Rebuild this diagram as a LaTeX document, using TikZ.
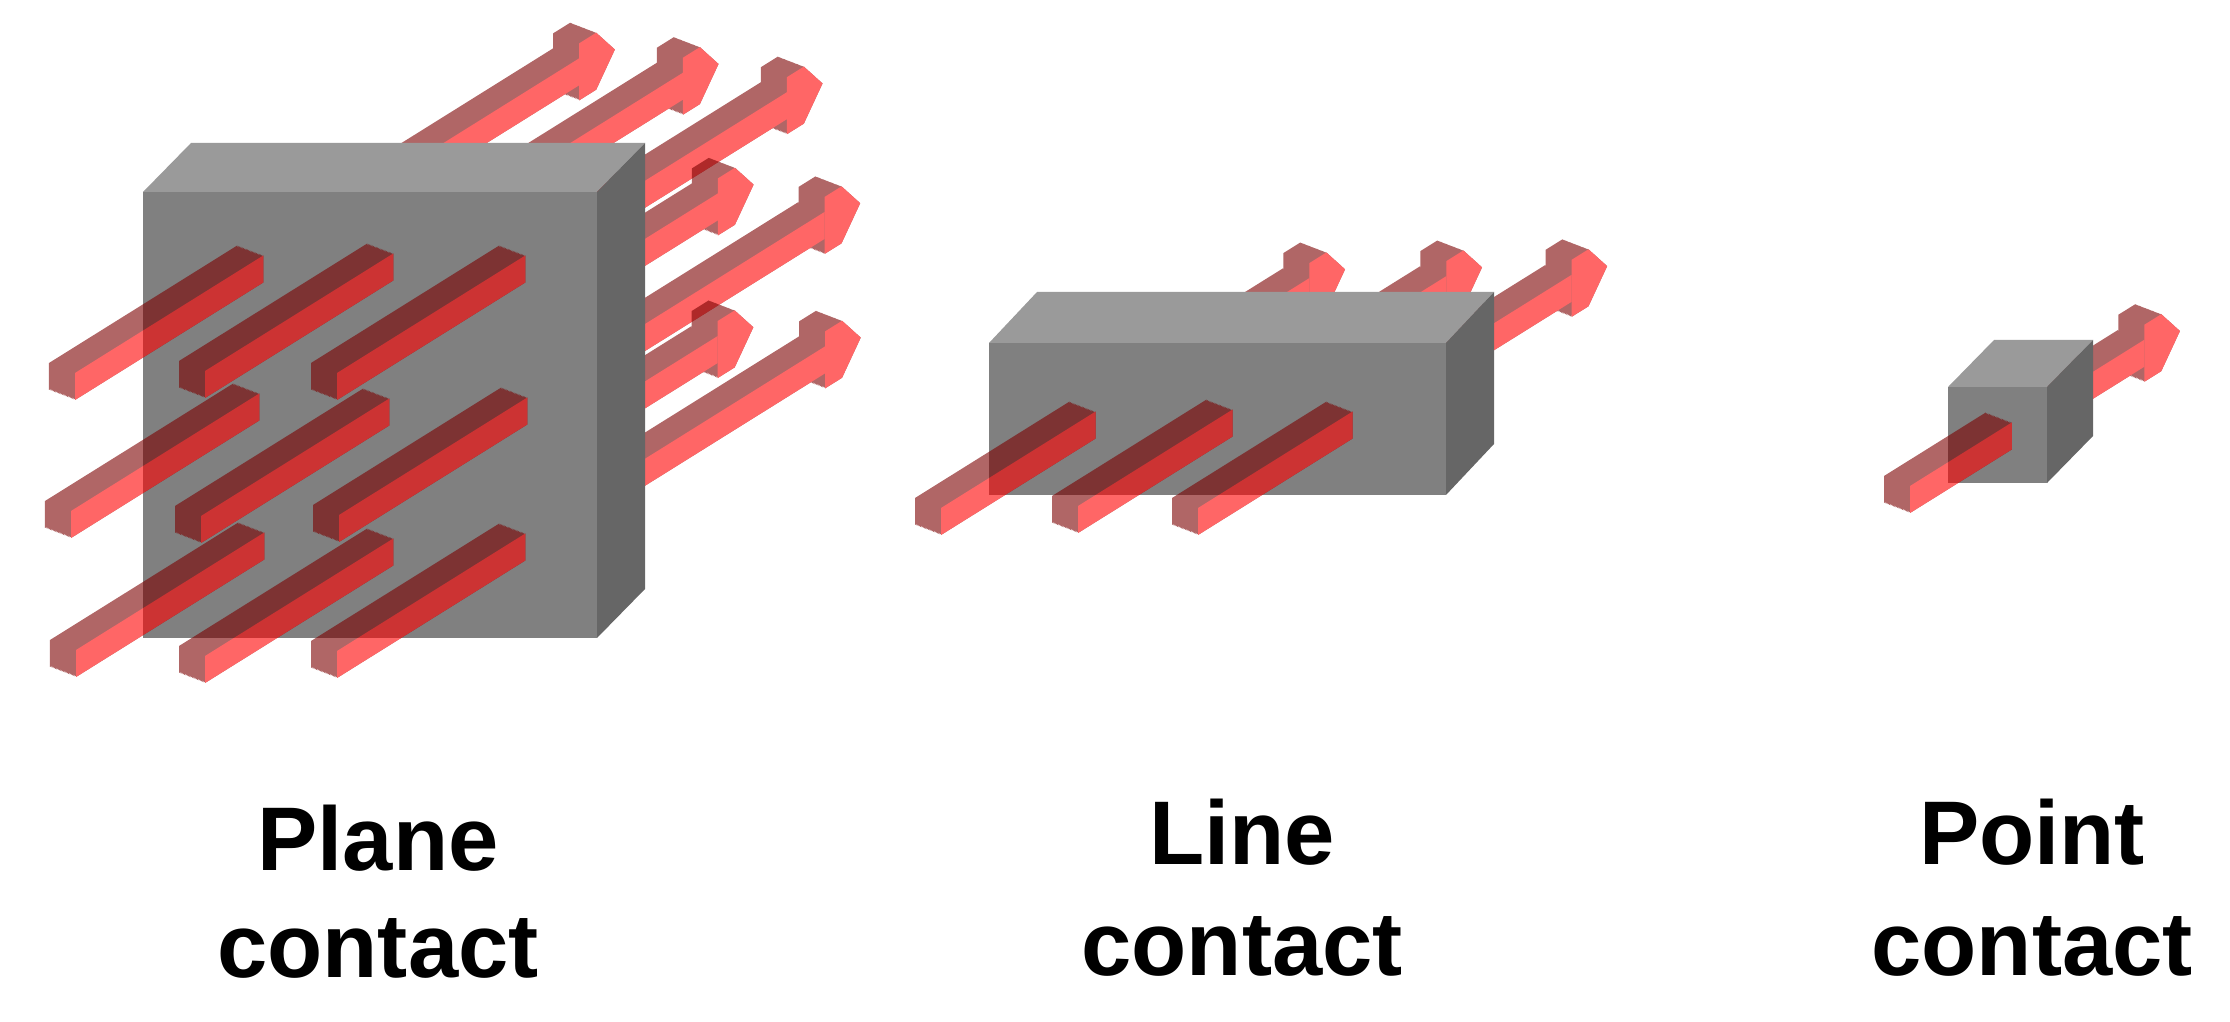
\documentclass[tikz,border=0pt]{standalone}
\usepackage{fontspec}
\setmainfont{Liberation Sans}
\begin{document}
\begin{tikzpicture}[x=0.01cm,y=-0.01cm,
  lf/.style={x={(0.00848cm,0.0053cm)},y={(0cm,0.01cm)}},
  bdark/.style={fill={rgb,255:red,123;green,0;blue,0}},
  bfront/.style={fill={rgb,255:red,255;green,0;blue,0}},
  gfront/.style={fill={rgb,255:red,128;green,128;blue,128}},
  gtop/.style={fill={rgb,255:red,154;green,154;blue,154}},
  gside/.style={fill={rgb,255:red,102;green,102;blue,102}},
  lbl/.style={font=\fontsize{25.7}{30}\selectfont\bfseries, anchor=base, inner sep=0pt}]
\useasboundingbox (0,0) rectangle (2230,1022);
\newcommand\barpiece[5]{%
  \begin{scope}[transparency group, opacity=.6]
   \foreach \s in {0,0.05,...,1.001}{
     \fill[bdark, shift={(#1-26*\s,#2-10*\s)}, lf]
       (#3,0) -- (#4,0) -- (#4,27) -- (#3,27) -- cycle;
     \ifnum#5=1
     \fill[bdark, shift={(#1-26*\s,#2-10*\s)}, lf]
       (#4,-15) -- (#4+20,-15) -- (#4+42,13.5) -- (#4+20,42) -- (#4,42) -- cycle;
     \fi
   }
   \fill[bfront, shift={(#1,#2)}, lf] (#3,0) -- (#4,0) -- (#4,27) -- (#3,27) -- cycle;
   \ifnum#5=1
   \fill[bfront, shift={(#1,#2)}, lf]
       (#4,-15) -- (#4+20,-15) -- (#4+42,13.5) -- (#4+20,42) -- (#4,42) -- cycle;
   \fi
  \end{scope}}
\newcommand\boxdraw[6]{% x1 y1 x2 y2 dx dy
  \fill[gtop] (#1,#2) -- (#1+#5,#2+#6) -- (#3+#5,#2+#6) -- (#3,#2) -- cycle;
  \fill[gside] (#3,#2) -- (#3+#5,#2+#6) -- (#3+#5,#4+#6) -- (#3,#4) -- cycle;
  \fill[gfront] (#1,#2) rectangle (#3,#4);}
% ---------- Plane contact ----------
\foreach \x/\y/\t in {75/400/636,205/398/605,337/400/572,71/538/636,201/543/651,339/542/614,76/677/636,205/683/646,337/678/617}{
  \pgfmathsetmacro\e{\t-42}
  \barpiece{\x}{\y}{212}{\e}{1}}
\boxdraw{143}{192}{597}{638}{48}{-49}
\foreach \x/\y in {75/400,205/398,337/400,71/538,201/543,339/542,76/677,205/683,337/678}{
  \barpiece{\x}{\y}{0}{222}{0}}
% ---------- Line contact ----------
\foreach \x/\y/\t in {941/535/476,1078/533/476,1198/535/482}{
  \pgfmathsetmacro\e{\t-42}
  \barpiece{\x}{\y}{172}{\e}{1}}
\boxdraw{989}{343}{1446}{495}{48}{-51}
\foreach \x/\y in {941/535,1078/533,1198/535}{
  \barpiece{\x}{\y}{0}{182}{0}}
% ---------- Point contact ----------
\barpiece{1910}{513}{110}{276}{1}
\boxdraw{1948}{387}{2047}{483}{46}{-47}
\barpiece{1910}{513}{0}{120}{0}
% ---------- Labels ----------
\node[lbl] (p1) at (378,870) {Plane};
\node[lbl] (p2) at (378,977) {contact};
\node[lbl] (l1) at (1242,864) {Line};
\node[lbl] (l2) at (1242,975) {contact};
\node[lbl] (t1) at (2032,864) {Point};
\node[lbl] (t2) at (2032,975) {contact};
\end{tikzpicture}
\end{document}
